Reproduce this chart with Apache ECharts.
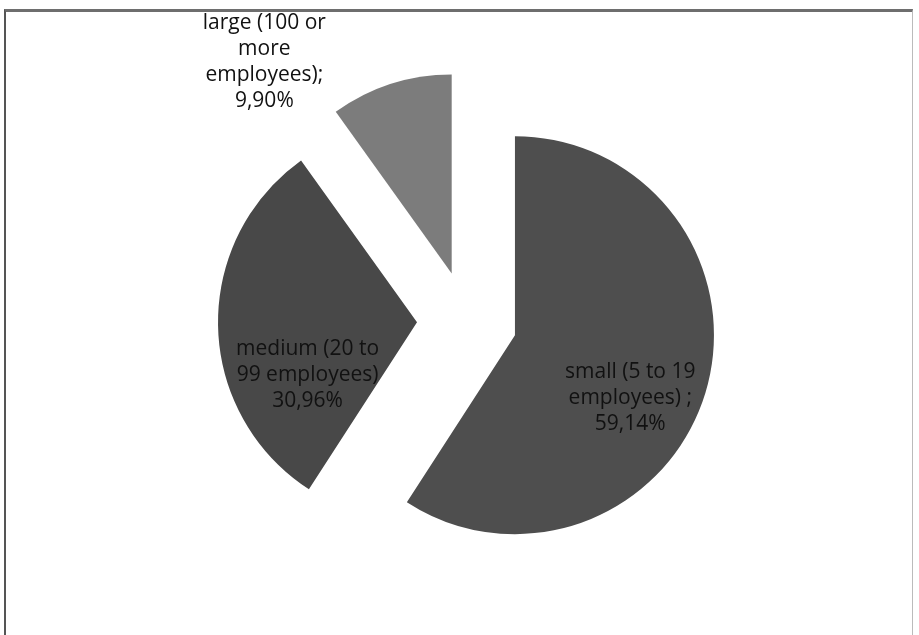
<!DOCTYPE html>
<html>
<head>
<meta charset="utf-8">
<script src="https://cdn.jsdelivr.net/npm/echarts@6/dist/echarts.min.js"></script>
<style>
  html, body { margin: 0; padding: 0; background: #fff; }
  #frame {
    position: absolute; left: 4px; top: 9px; width: 906px; height: 640px;
    border-top: 3px solid #6e6e6e; border-left: 2px solid #555; border-right: 1px solid #bbb;
  }
  #graph { position: absolute; left: 0; top: 0; width: 919px; height: 635px; }
</style>
</head>
<body>
<div id="frame"></div>
<div id="graph"></div>
<script>
var categories = ['small (5 to 19\nemployees) ;', 'medium (20 to\n99 employees)', 'large (100 or\nmore\nemployees);'];
var shares = [59.14, 30.96, 9.90];
var shareLabels = ['59,14%', '30,96%', '9,90%'];
var colors = ['#4e4e4e', '#484848', '#7c7c7c'];

// label nudges from the default inside position
var labelShift = [[17, 34], [-7, 50], [-156, -114]];

var chart = echarts.init(document.getElementById('graph'));

var option = {
  animation: false,
  series: [
    {
      type: 'pie',
      center: [467, 321],
      radius: 199,
      startAngle: 90,
      clockwise: true,
      selectedMode: 'multiple',
      selectedOffset: 50,
      emphasis: { disabled: true },
      label: {
        show: true,
        position: 'inside',
        fontFamily: 'Open Sans',
        fontSize: 21,
        lineHeight: 26,
        color: '#111',
        align: 'center',
        formatter: function (p) { return p.name + '\n' + shareLabels[p.dataIndex]; }
      },
      labelLine: { show: false },
      labelLayout: function (params) {
        var s = labelShift[params.dataIndex];
        return { dx: s[0], dy: s[1] };
      },
      data: categories.map(function (c, i) {
        return { name: c, value: shares[i], selected: true, itemStyle: { color: colors[i] } };
      })
    }
  ]
};
chart.setOption(option);
</script>
</body>
</html>
